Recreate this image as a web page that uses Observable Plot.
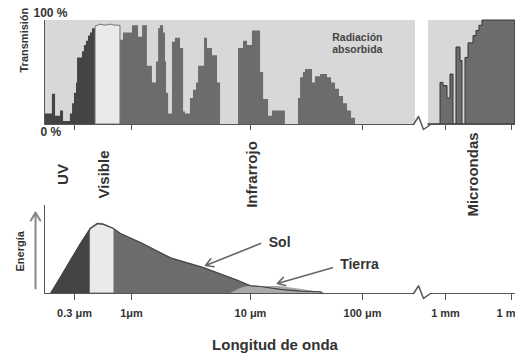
<!DOCTYPE html>
<html><head><meta charset="utf-8">
<script src="https://cdn.jsdelivr.net/npm/d3@7"></script>
<script src="https://cdn.jsdelivr.net/npm/@observablehq/plot@0.6"></script>
<style>
html,body{margin:0;padding:0;background:#fff;}
#wrap{position:relative;width:515px;height:353px;overflow:hidden;}
#wrap svg{position:absolute;left:0;top:0;}
</style></head><body><div id="wrap"></div>
<script>
// ---- axis ticks (wavelength in µm) ----
const tickWavelengths = [0.3, 1, 10, 100, 1000, 1e6];
const tickLabels = ["0.3 μm", "1μm", "10 μm", "100 μm", "1 mm", "1 m"];

// ---- spectrum extent & break (µm) ----
const spectrumStart = 0.159;
const spectrumEnd = 1.5e6;
const breakStart = 412;
const breakEnd = 660;
const absorbedBandStart = [0.159, 624];
const absorbedBandEnd = [435, 1.5e6];

// ---- atmospheric transmission (%), top panel ----
const uvWavelength = [0.159, 0.188, 0.201, 0.223, 0.238, 0.275, 0.288, 0.300, 0.313, 0.320, 0.355, 0.370, 0.386, 0.403, 0.420, 0.439, 0.468];
const uvTransmission = [10, 29, 8, 13, 3, 10, 20, 30, 40, 64, 70, 76, 80, 85, 88, 92, 0];
const visWavelength = [0.468, 0.468, 0.52, 0.577, 0.641, 0.713, 0.792, 0.792];
const visTransmission = [0, 94, 96, 95, 96, 95, 95, 0];
const irWavelength = [0.792, 0.845, 1.02, 1.145, 1.24, 1.36, 1.50, 1.62, 1.69, 1.75, 1.86, 1.93, 1.97, 2.05, 2.21, 2.34, 2.58, 2.74, 2.84, 3.13, 3.32, 3.52, 3.66, 4.11, 4.35, 4.79, 5.28, 5.60, 7.93, 8.73, 9.44, 10.4, 12.3, 13.1, 14.5, 15.7, 20.5, 26.8, 28.0, 29.7, 31.0, 35.8, 38.0, 42.2, 48.7, 52.9, 57.4, 62.3, 67.7, 73.5, 79.8, 86.6];
const irTransmission = [81, 88, 95, 84, 95, 56, 40, 60, 92, 95, 88, 60, 30, 10, 79, 83, 73, 12, 10, 25, 33, 40, 56, 83, 73, 66, 40, 0, 73, 80, 76, 90, 50, 24, 8, 13, 0, 25, 45, 50, 53, 40, 46, 48, 45, 40, 34, 27, 20, 13, 6, 0];
const mwWavelength = [624, 871, 946, 1233, 1688, 2310, 3162, 4806, 5925, 8111, 11100, 18740, 25660, 35130, 48060, 1.5e6];
const mwTransmission = [0, 40, 37, 25, 48, 0, 74, 61, 0, 64, 78, 85, 90, 95, 100, 100];

// ---- emitted energy (relative), bottom panel ----
const sunWavelength = [0.181, 0.223, 0.275, 0.340, 0.395, 0.420, 0.488, 0.553, 0.683, 0.698, 0.793, 1.19, 2.13, 4.03, 7.78, 10, 12.3, 18.5, 27.9, 42.2, 44];
const sunEnergy = [0, 23, 47, 71, 87, 93, 100, 99, 93, 92, 86, 73, 51, 37, 19, 11, 10, 6, 3.5, 2.5, 0];
const earthWavelength = [6.79, 8.24, 9.44, 18.5, 27.9, 42.2, 46.8];
const earthEnergy = [0, 7, 10, 10, 6, 1.5, 0];
const uvVisEdge = 0.42;
const visIrEdge = 0.698;

// ---- labels ----
const bandLabels = ["UV", "Visible", "Infrarrojo", "Microondas"];
const bandLabelWavelength = [0.238, 0.56, 10.3, 17800];
const curveLabels = ["Sol", "Tierra"];
const curveLabelWavelength = [18.2, 94];
const curveLabelEnergy = [73, 41.5];
const arrowFromWavelength = [12.3, 53.9];
const arrowFromEnergy = [71.5, 37];
const arrowToWavelength = [4.19, 17.4];
const arrowToEnergy = [40, 14.3];
const breakWavelength = [412, 473, 543, 660];
const breakTopShape = [0, 7.7, -4.8, 0];
const breakBottomShape = [0, 11, -7, 0];
const energyArrowWavelength = 0.1315;
const energyArrowFrom = 7;
const energyArrowTo = 116;

const pts = (xs, ys) => xs.map((w, i) => ({w, v: ys[i]}));
const font = "'Liberation Sans', Arial, sans-serif";
const xOpt = {type: "log", domain: [spectrumStart, ...tickWavelengths], range: [44, 74, 131, 250, 362, 445, 511]};
const baseSegs = [{a: spectrumStart, b: breakStart}, {a: breakEnd, b: spectrumEnd}];
const lastTick = tickWavelengths.length - 1;

const bg = "#d8d8d8", dark = "#444", mid = "#6c6c6c", light = "#eaeaea", earthC = "#a9a9a9", ink = "#333";

const topPlot = Plot.plot({
  width: 515, height: 353,
  marginLeft: 44, marginRight: 0, marginTop: 20, marginBottom: 229,
  style: {fontFamily: font, fontWeight: "bold", background: "transparent", color: ink},
  x: xOpt,
  y: {domain: [0, 100], range: [124, 20], axis: null},
  marks: [
    Plot.rect(absorbedBandStart.map((a, i) => ({a, b: absorbedBandEnd[i]})), {x1: "a", x2: "b", y1: 0, y2: 100, fill: bg}),
    Plot.areaY(pts(uvWavelength, uvTransmission), {x: "w", y: "v", curve: "step-after", fill: dark}),
    Plot.areaY(pts(irWavelength, irTransmission), {x: "w", y: "v", curve: "step-after", fill: mid}),
    Plot.areaY(pts(mwWavelength, mwTransmission), {x: "w", y: "v", curve: "step-after", fill: mid, stroke: "#333", strokeWidth: 1}),
    Plot.areaY(pts(visWavelength, visTransmission), {x: "w", y: "v", curve: "linear", fill: light, stroke: "#777", strokeWidth: 1}),
    Plot.ruleX([spectrumStart], {y1: 0, y2: 100, stroke: "#555"}),
    Plot.ruleY(baseSegs, {x1: "a", x2: "b", y: 0, stroke: "#555"}),
    Plot.line(pts(breakWavelength, breakTopShape), {x: "w", y: "v", stroke: "#555"}),
    Plot.axisX({ticks: tickWavelengths, tickFormat: () => "", tickSize: 6, stroke: "#555", label: null}),
    Plot.text(["100 %"], {frameAnchor: "top-left", lineAnchor: "middle", dx: -11, dy: -7, textAnchor: "start", fontSize: 12, fill: ink}),
    Plot.text(["0 %"], {frameAnchor: "bottom-left", lineAnchor: "middle", dx: -4, dy: 8, textAnchor: "start", fontSize: 12, fill: ink}),
    Plot.text(["Transmisión"], {frameAnchor: "left", lineAnchor: "middle", dx: -20, rotate: -90, fontSize: 11, fill: ink}),
    Plot.text(["Radiación\nabsorbida"], {x: 90, y: 78, fontSize: 10.5, lineHeight: 1.1, fill: "#444"}),
    Plot.text(bandLabels, {x: (d, i) => bandLabelWavelength[i], frameAnchor: "bottom", lineAnchor: "middle", dy: 50, rotate: -90, fontSize: 15, fill: ink})
  ]
});

const sun = pts(sunWavelength, sunEnergy);
const bottomPlot = Plot.plot({
  width: 515, height: 353,
  marginLeft: 44, marginRight: 0, marginTop: 205, marginBottom: 60,
  style: {fontFamily: font, fontWeight: "bold", background: "transparent", color: ink},
  x: xOpt,
  y: {domain: [0, 126], axis: null},
  marks: [
    Plot.areaY(sun.filter(d => d.w <= uvVisEdge), {x: "w", y: "v", fill: dark}),
    Plot.areaY(sun.filter(d => d.w >= uvVisEdge && d.w <= visIrEdge), {x: "w", y: "v", fill: light, stroke: "#777"}),
    Plot.areaY(sun.filter(d => d.w >= visIrEdge), {x: "w", y: "v", fill: mid}),
    Plot.areaY(pts(earthWavelength, earthEnergy), {x: "w", y: "v", fill: earthC}),
    Plot.line(sun, {x: "w", y: "v", stroke: "#444", strokeWidth: 1.2}),
    Plot.ruleX([spectrumStart], {y1: 0, y2: 126, stroke: "#555"}),
    Plot.ruleY(baseSegs, {x1: "a", x2: "b", y: 0, stroke: "#555"}),
    Plot.line(pts(breakWavelength, breakBottomShape), {x: "w", y: "v", stroke: "#555"}),
    Plot.arrow([0], {x1: energyArrowWavelength, y1: energyArrowFrom, x2: energyArrowWavelength, y2: energyArrowTo, stroke: "#888", strokeWidth: 2, headLength: 7}),
    Plot.text(["Energía"], {frameAnchor: "left", lineAnchor: "middle", dx: -24, dy: 22, rotate: -90, fontSize: 11, fill: ink}),
    Plot.arrow(curveLabels, {x1: (d, i) => arrowFromWavelength[i], y1: (d, i) => arrowFromEnergy[i], x2: (d, i) => arrowToWavelength[i], y2: (d, i) => arrowToEnergy[i], stroke: "#666", strokeWidth: 1.6, headLength: 8}),
    Plot.text(curveLabels, {x: (d, i) => curveLabelWavelength[i], y: (d, i) => curveLabelEnergy[i], fontSize: 14, fill: ink}),
    Plot.axisX({ticks: tickWavelengths, tickFormat: () => "", tickSize: 7, stroke: "#555", label: null}),
    Plot.text(tickWavelengths.slice(0, lastTick), {x: d => d, text: (d, i) => tickLabels[i], frameAnchor: "bottom", lineAnchor: "middle", dy: 20, fontSize: 11, fill: ink}),
    Plot.text([tickWavelengths[lastTick]], {x: d => d, text: () => tickLabels[lastTick], frameAnchor: "bottom", lineAnchor: "middle", textAnchor: "end", dx: 4, dy: 20, fontSize: 11, fill: ink}),
    Plot.text(["Longitud de onda"], {frameAnchor: "bottom", lineAnchor: "middle", dx: -5, dy: 52, fontSize: 15, fill: ink})
  ]
});

document.getElementById("wrap").append(topPlot, bottomPlot);
</script></body></html>
